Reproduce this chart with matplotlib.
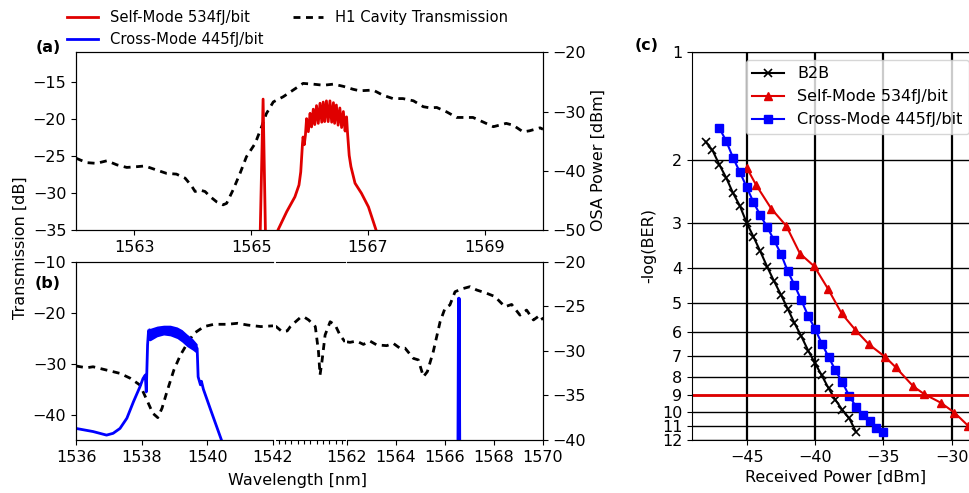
import matplotlib
matplotlib.use('Agg')
import matplotlib.pyplot as plt
from matplotlib.lines import Line2D

plt.rcParams['font.size'] = 11.5

RED = '#e00000'
BLUE = '#0000ff'
DASH = (2.5, 2.0)

# (a) H1 cavity transmission, 1562-1570 nm
a_h1_wl = [1562.0, 1562.18, 1562.35, 1562.53, 1562.70, 1562.87, 1563.04, 1563.18, 1563.38, 1563.55,
           1563.72, 1563.87, 1563.98, 1564.04, 1564.12, 1564.21, 1564.30, 1564.41, 1564.52, 1564.58,
           1564.69, 1564.81, 1564.92, 1565.07, 1565.18, 1565.26, 1565.38, 1565.55, 1565.72, 1565.89,
           1566.06, 1566.24, 1566.41, 1566.58, 1566.75, 1566.86, 1567.09, 1567.26, 1567.43, 1567.60,
           1567.78, 1567.95, 1568.06, 1568.18, 1568.35, 1568.52, 1568.63, 1568.80, 1568.97, 1569.15,
           1569.37, 1569.49, 1569.66, 1569.77, 1569.95, 1570.0]
a_h1_tr = [-25.3, -25.9, -26.0, -25.65, -26.2, -26.55, -26.45, -26.35, -26.9, -27.35,
           -27.45, -28.0, -29.05, -29.8, -29.6, -29.8, -30.5, -31.2, -31.6, -31.4,
           -29.6, -27.35, -25.1, -23.3, -21.05, -19.3, -17.7, -17.0, -16.1, -15.2,
           -15.3, -15.45, -15.3, -15.6, -16.0, -16.2, -16.1, -16.8, -17.25, -17.25,
           -17.55, -18.35, -18.5, -18.45, -19.05, -19.8, -19.8, -19.8, -20.4, -21.05,
           -20.6, -20.85, -21.75, -21.6, -21.2, -21.4]

# (a) self-mode OSA spectrum
a_self_wl = [1565.15, 1565.205, 1565.25, 1565.42, 1565.46, 1565.61, 1565.75, 1565.82, 1565.85, 1565.88,
             1565.89, 1565.91, 1565.93, 1565.95, 1565.98, 1566.01, 1566.035, 1566.065, 1566.09, 1566.12,
             1566.15, 1566.18, 1566.21, 1566.235, 1566.26, 1566.29, 1566.32, 1566.35, 1566.38, 1566.41,
             1566.43, 1566.46, 1566.49, 1566.52, 1566.55, 1566.58, 1566.61, 1566.635, 1566.65, 1566.68,
             1566.71, 1566.78, 1566.89, 1567.01, 1567.14, 1567.17]
a_self_pw = [-53, -27.9, -53, -53, -50.0, -46.9, -44.4, -42.4, -40.2, -35.4,
             -34.3, -35.6, -34.0, -31.2, -33.4, -30.3, -32.6, -29.6, -32.2, -29.0,
             -32.0, -28.6, -31.8, -28.4, -31.7, -28.2, -31.7, -28.2, -31.8, -28.5,
             -32.0, -28.9, -32.3, -29.4, -32.7, -30.0, -33.3, -30.9, -33.4, -37.4,
             -39.3, -42.1, -43.8, -46.1, -50.0, -51.0]

# (b) H1 cavity transmission, three wavelength segments
b_h1_wl_l = [1536.0, 1536.32, 1536.52, 1536.93, 1537.34, 1537.65, 1537.95, 1538.18, 1538.34, 1538.49,
             1538.62, 1538.77, 1538.98, 1539.18, 1539.39, 1539.59, 1539.9, 1540.2, 1540.61, 1540.92,
             1541.23, 1541.63, 1542.0]
b_h1_tr_l = [-30.45, -30.8, -30.6, -31.25, -31.9, -32.85, -34.2, -37.45, -39.75, -40.6,
             -38.75, -35.5, -31.25, -28.3, -26.0, -24.05, -22.7, -22.25, -22.25, -22.05,
             -22.4, -22.7, -22.55]
b_h1_wl_m = [1542.0, 1542.21, 1542.37, 1542.47, 1542.58, 1542.79, 1542.9, 1543.05, 1543.26, 1543.36,
             1543.41, 1543.47, 1543.57, 1543.73, 1543.89, 1544.04, 1544.2]
b_h1_tr_m = [-22.6, -23.7, -23.55, -22.7, -22.05, -20.9, -20.8, -21.4, -22.7, -27.6,
             -32.2, -29.6, -24.35, -21.75, -22.4, -24.35, -25.7]
b_h1_wl_r = [1562.0, 1562.12, 1562.39, 1562.67, 1562.94, 1563.21, 1563.62, 1563.89, 1564.16, 1564.37,
             1564.71, 1564.91, 1565.12, 1565.28, 1565.52, 1565.8, 1566.0, 1566.2, 1566.41, 1566.68,
             1567.02, 1567.29, 1567.7, 1568.04, 1568.24, 1568.45, 1568.72, 1569.06, 1569.33, 1569.61,
             1569.88, 1570.0]
b_h1_tr_r = [-25.7, -25.8, -25.55, -26.2, -25.55, -26.3, -26.45, -26.0, -26.95, -26.95,
             -28.95, -29.25, -32.55, -31.55, -27.65, -21.75, -19.1, -18.45, -15.85, -15.3,
             -14.85, -15.5, -16.15, -16.8, -17.8, -18.8, -18.35, -20.45, -19.45, -21.4,
             -20.45, -21.4]

# (b) cross-mode OSA spectrum
b_cross_wl = [1536.0, 1536.52, 1536.93, 1537.13, 1537.34, 1537.55, 1537.75, 1537.95, 1538.04, 1538.11,
              1538.14, 1538.18, 1538.21, 1538.26, 1538.47, 1538.67, 1538.87, 1539.08, 1539.28, 1539.49,
              1539.64, 1539.69, 1539.72, 1539.79, 1539.82, 1539.88, 1540.1, 1540.43, 1540.5]
b_cross_pw = [-38.7, -39.05, -39.45, -39.25, -38.7, -37.55, -35.7, -34.0, -33.1, -32.7,
              -34.6, -29.3, -27.7, -28.1, -27.7, -27.5, -27.5, -27.8, -28.4, -29.0,
              -29.5, -29.7, -32.9, -33.8, -33.4, -34.3, -36.6, -40.0, -40.8]
# fine ripple envelope on top of the cross-mode band
b_band_wl = [1538.2, 1538.26, 1538.47, 1538.67, 1538.87, 1539.08, 1539.23, 1539.38, 1539.55, 1539.69]
b_band_hi = [-27.4, -27.45, -27.2, -27.1, -27.1, -27.3, -27.6, -28.1, -28.6, -29.2]
b_band_lo = [-28.8, -28.85, -28.4, -28.2, -28.3, -28.6, -29.0, -29.5, -29.9, -30.3]
b_spike_wl = [1566.54, 1566.565, 1566.59]
b_spike_pw = [-42, -24.1, -42]

# (c) BER curves
b2b_x = [-48, -47.5, -47, -46.5, -46, -45.5, -45, -44.5, -44, -43.5, -43, -42.5,
         -42, -41.5, -41, -40.5, -40, -39.5, -39, -38.5, -38, -37.5, -37]
b2b_y = [1.78, 1.88, 2.06, 2.24, 2.47, 2.68, 2.99, 3.27, 3.59, 3.96, 4.34, 4.73,
         5.18, 5.68, 6.18, 6.77, 7.34, 7.94, 8.63, 9.29, 9.9, 10.44, 11.38]
self_x = [-45, -44.3, -43.2, -42.1, -41.1, -40.05, -39.05, -38.05, -37.05, -36.05,
          -34.85, -34.1, -32.8, -32.0, -30.8, -29.8, -28.8]
self_y = [2.10, 2.35, 2.73, 3.05, 3.64, 3.95, 4.56, 5.34, 5.93, 6.51,
          7.06, 7.53, 8.52, 8.95, 9.45, 10.07, 10.95]
cross_x = [-47, -46.5, -46, -45.5, -45, -44.5, -44, -43.5, -43, -42.5, -42, -41.5, -41,
           -40.5, -40, -39.5, -39, -38.5, -38, -37.5, -37, -36.5, -36, -35.5, -35]
cross_y = [1.63, 1.77, 1.97, 2.16, 2.38, 2.62, 2.85, 3.07, 3.34, 3.64, 4.07, 4.45, 4.91,
           5.42, 5.89, 6.48, 7.06, 7.69, 8.29, 9.05, 9.69, 10.22, 10.6, 11.13, 11.43]
fec_limit = 9
ber_ticks = [1, 2, 3, 4, 5, 6, 7, 8, 9, 10, 11, 12]

W, H = 969, 493
fig = plt.figure(figsize=(W / 100, H / 100), dpi=100)


def box(x0, x1, y0, y1):
    # pixel box -> figure fraction rect
    return [x0 / W, 1 - y1 / H, (x1 - x0) / W, (y1 - y0) / H]


# ---- panel (a)
ax_a = fig.add_axes(box(76, 543, 52.3, 230))
ax_a.plot(a_h1_wl, a_h1_tr, 'k--', lw=2, dashes=DASH)
ax_a.set_xlim(1562, 1570)
ax_a.set_ylim(-35, -11)
ax_a.set_xticks([1563, 1565, 1567, 1569])
ax_a.set_yticks([-35, -30, -25, -20, -15])
ax_a2 = ax_a.twinx()
ax_a2.plot(a_self_wl, a_self_pw, color=RED, lw=2)
ax_a2.set_ylim(-50, -20)
ax_a2.set_yticks([-50, -40, -30, -20])

# ---- panel (b), broken wavelength axis
ax_bl = fig.add_axes(box(76, 273, 262, 440))
ax_bl.plot(b_h1_wl_l, b_h1_tr_l, 'k--', lw=2, dashes=DASH)
ax_bl.set_xlim(1536, 1542)
ax_bl.set_ylim(-45, -10)
ax_bl.set_xticks([1536, 1538, 1540, 1542])
ax_bl.set_yticks([-40, -30, -20, -10])
ax_bl2 = ax_bl.twinx()
ax_bl2.fill_between(b_band_wl, b_band_lo, b_band_hi, color=BLUE, lw=0)
ax_bl2.plot(b_cross_wl, b_cross_pw, color=BLUE, lw=2)
ax_bl2.set_ylim(-40, -20)
ax_bl2.set_yticks([])
for a in (ax_bl, ax_bl2):
    a.spines['right'].set_visible(False)

ax_bm = fig.add_axes(box(275.5, 345, 262, 440))
ax_bm.plot(b_h1_wl_m, b_h1_tr_m, 'k--', lw=2, dashes=DASH)
ax_bm.set_xlim(1542, 1544.2)
ax_bm.set_ylim(-45, -10)
ax_bm.set_yticks([])
ax_bm.set_xticks([1542.1 + 0.2 * i for i in range(11)])
ax_bm.set_xticklabels([])
ax_bm.tick_params(axis='x', length=3)
ax_bm.spines['left'].set_visible(False)
ax_bm.spines['right'].set_visible(False)

ax_br = fig.add_axes(box(347, 543, 262, 440))
ax_br.plot(b_h1_wl_r, b_h1_tr_r, 'k--', lw=2, dashes=DASH)
ax_br.set_xlim(1562, 1570)
ax_br.set_ylim(-45, -10)
ax_br.set_xticks([1562, 1564, 1566, 1568, 1570])
ax_br.set_yticks([])
ax_br2 = ax_br.twinx()
ax_br2.plot(b_spike_wl, b_spike_pw, color=BLUE, lw=2.5)
ax_br2.set_ylim(-40, -20)
ax_br2.set_yticks([-40, -35, -30, -25, -20])
for a in (ax_br, ax_br2):
    a.spines['left'].set_visible(False)

fig.text(20 / W, 1 - 248 / H, 'Transmission [dB]', rotation=90, ha='center', va='center')
fig.text(598 / W, 1 - 160 / H, 'OSA Power [dBm]', rotation=90, ha='center', va='center')
fig.text(297 / W, 1 - 480 / H, 'Wavelength [nm]', ha='center', va='center')
fig.text(48 / W, 1 - 47 / H, '(a)', weight='bold', ha='center', va='center')
fig.text(48 / W, 1 - 283 / H, '(b)', weight='bold', ha='center', va='center')
fig.text(647 / W, 1 - 45 / H, '(c)', weight='bold', ha='center', va='center')

top_handles = [Line2D([], [], color=RED, lw=2, label='Self-Mode 534fJ/bit'),
               Line2D([], [], color=BLUE, lw=2, label='Cross-Mode 445fJ/bit'),
               Line2D([], [], color='k', ls='--', lw=2, dashes=DASH, label='H1 Cavity Transmission')]
fig.legend(handles=top_handles, loc='upper left', bbox_to_anchor=(61 / W, 1 - 4 / H),
           ncol=2, frameon=False, borderaxespad=0, fontsize=10.6, handlelength=2.1,
           columnspacing=2.0)

# ---- panel (c)
ax_c = fig.add_axes(box(692, 979, 51.7, 440))
ax_c.plot(b2b_x, b2b_y, 'k-x', lw=1.5, ms=6, mew=1.2, label='B2B')
ax_c.plot(self_x, self_y, '-^', color=RED, lw=1.5, ms=6, label='Self-Mode 534fJ/bit')
ax_c.plot(cross_x, cross_y, '-s', color=BLUE, lw=1.5, ms=6, label='Cross-Mode 445fJ/bit')
ax_c.axhline(fec_limit, color=RED, lw=2)
ax_c.set_yscale('log')
ax_c.set_ylim(12, 1)
ax_c.set_yticks(ber_ticks)
ax_c.set_yticklabels([str(t) for t in ber_ticks])
ax_c.yaxis.set_minor_locator(plt.NullLocator())
ax_c.set_xlim(-49, -28)
ax_c.set_xticks([-45, -40, -35, -30])
ax_c.grid(axis='x', color='k', lw=1.6)
ax_c.grid(axis='y', color='k', lw=1)
ax_c.set_axisbelow(True)
ax_c.set_ylabel('-log(BER)')
ax_c.set_xlabel('Received Power [dBm]')
ax_c.legend(loc='upper left', bbox_to_anchor=(746 / W, 1 - 60 / H),
            bbox_transform=fig.transFigure, borderaxespad=0)

fig.savefig('out.png', dpi=100)
